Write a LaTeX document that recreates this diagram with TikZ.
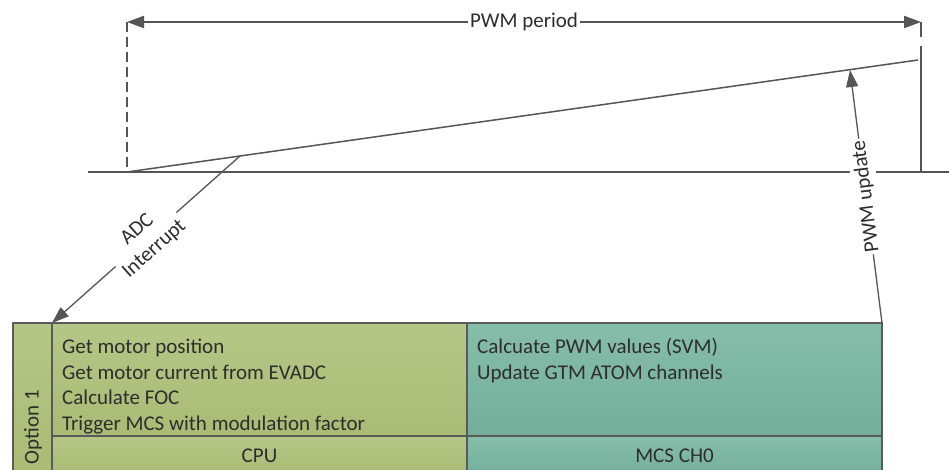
\documentclass[tikz,border=0pt]{standalone}
\usepackage{fontspec}
\setmainfont{Carlito}
\usetikzlibrary{arrows.meta}
\definecolor{lineg}{RGB}{85,85,85}
\definecolor{boxline}{RGB}{90,90,90}
\definecolor{txt}{RGB}{45,45,45}
\definecolor{grnT}{RGB}{182,198,134}
\definecolor{grnB}{RGB}{170,187,117}
\definecolor{tealT}{RGB}{134,189,171}
\definecolor{tealB}{RGB}{116,174,155}
\begin{document}
\begin{tikzpicture}[x=1pt,y=-1pt,
  every node/.style={font=\fontsize{21}{25.7}\selectfont, text=txt},
  tip/.style={-{Triangle[length=17pt,width=12pt]}},
  bitip/.style={{Triangle[length=17pt,width=12pt]}-{Triangle[length=17pt,width=12pt]}},
  conn/.style={draw=lineg, line width=1.3pt},
  lbl/.style={fill=white, inner xsep=2pt, inner ysep=4pt},
  greenbox/.style={draw=boxline, line width=1.2pt, top color=grnT, bottom color=grnB, inner sep=0pt, outer sep=0pt, anchor=north west},
  tealbox/.style={draw=boxline, line width=1.2pt, top color=tealT, bottom color=tealB, inner sep=0pt, outer sep=0pt, anchor=north west},
  line/.style={anchor=base west, inner sep=0pt}
]
\useasboundingbox (0,0) rectangle (949,470);

% boxes
\node[greenbox, minimum width=39pt, minimum height=152pt] (opt) at (13,323) {};
\node[greenbox, minimum width=415pt, minimum height=113pt] (cpuTop) at (52,323) {};
\node[greenbox, minimum width=415pt, minimum height=40pt] (cpuBot) at (52,436) {};
\node[tealbox, minimum width=415pt, minimum height=113pt] (mcsTop) at (467,323) {};
\node[tealbox, minimum width=415pt, minimum height=40pt] (mcsBot) at (467,436) {};

% texts
\node[rotate=90] (optTxt) at (33,427) {Option 1};
\node[line] (c1) at (62,353) {Get motor position};
\node[line] (c2) at (62,379) {Get motor current from EVADC};
\node[line] (c3) at (62,404) {Calculate FOC};
\node[line] (c4) at (62,430) {Trigger MCS with modulation factor};
\node[line] (m1) at (477,353) {Calcuate PWM values (SVM)};
\node[line] (m2) at (477,379) {Update GTM ATOM channels};
\node[anchor=base, inner sep=0pt] (cpuTxt) at (259.5,462) {CPU};
\node[anchor=base, inner sep=0pt] (mcsTxt) at (674.5,462) {MCS CH0};

% timing diagram coordinates
\coordinate (axL) at (88,172);
\coordinate (axR) at (949,172);
\coordinate (t0) at (127,172);
\coordinate (t0top) at (127,22);
\coordinate (t1) at (921,172);
\coordinate (t1top) at (921,22);
\coordinate (rampEnd) at (918,60);
\coordinate (adcPt) at (240,156);
\coordinate (updPt) at (850,70);

% axis and markers
\draw[lineg, line width=2pt] (axL) -- (axR);
\draw[lineg, line width=1.5pt, dash pattern=on 10pt off 5pt] (t0top) -- (t0);
\draw[lineg, line width=1.5pt, dash pattern=on 15pt off 9pt on 140pt off 0pt] (t1top) -- (t1);
\draw[lineg, line width=1.5pt] (t0) -- (rampEnd);

% PWM period
\draw[conn, bitip, line width=2pt] (t0top) -- node[lbl] (perLbl) {PWM period} (t1top);

% ADC interrupt
\draw[conn, tip] (adcPt) -- node[lbl, sloped, align=center] (adcLbl) {ADC\\Interrupt} (cpuTop.north west);

% PWM update
\draw[conn, tip] (mcsTop.north east) -- node[lbl, rotate=97.2] (updLbl) {PWM update} (updPt);
\end{tikzpicture}
\end{document}
